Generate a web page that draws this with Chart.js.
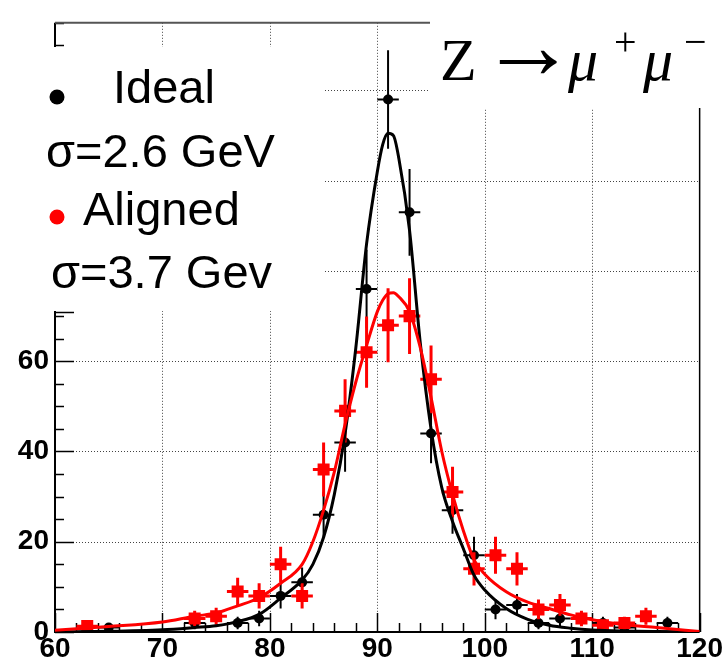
<!DOCTYPE html>
<html>
<head>
<meta charset="utf-8">
<script src="https://cdn.jsdelivr.net/npm/chart.js@4.4.1/dist/chart.umd.min.js"></script>
<style>
  html, body { margin: 0; padding: 0; background: #fff; }
  #wrap { width: 723px; height: 658px; }
</style>
</head>
<body>
<div id="wrap"><canvas id="zChart" width="723" height="658"></canvas></div>
<script>
// Bin centres (GeV), 2 GeV bins
const binCenters = [61, 63, 65, 67, 69, 71, 73, 75, 77, 79, 81, 83, 85, 87, 89,
                    91, 93, 95, 97, 99, 101, 103, 105, 107, 109, 111, 113, 115, 117, 119];

// Ideal geometry (black)
const idealCounts = [null, null, 1, null, null, null, 2, null, 2, 3, 8, 11, 26, 42, 76,
                     118, 93, 44, 27, 17, 5, 6, 2, 3, null, 2, 1, null, 2, null];
const idealErrors = [null, null, 1, null, null, null, 1.4, null, 1.4, 1.7, 2.8, 3.3, 5.1, 6.5, 8.7,
                     10.9, 9.6, 6.6, 5.2, 4.1, 2.2, 2.4, 1.4, 1.7, null, 1.4, 1, null, 1.4, null];

// Aligned geometry (red)
const alignedCounts = [null, 1.3, null, null, null, null, 3, 3.5, 9, 8, 15, 8, 36, 49, 62,
                       68, 70, 56, 31, 14, 17, 14, 5, 6, 3, 1.5, 2, 3.5, null, null];
const alignedErrors = [null, 1, null, null, null, null, 1.7, 1.9, 3, 2.8, 3.9, 2.8, 6, 7, 7.9,
                       8.2, 8.4, 7.5, 5.6, 3.7, 4.1, 3.7, 2.2, 2.4, 1.7, 1.2, 1.4, 1.9, null, null];

// Fit curves
const fitMass = [60, 65, 70, 73, 75, 77, 79, 81, 83, 84, 85, 86, 87, 88, 89, 90, 90.5, 91, 91.5,
                 92, 93, 94, 95, 96, 97, 98, 99, 100, 102, 104, 106, 108, 110, 113, 116, 120];
const idealFit = [0.05, 0.15, 0.5, 1.0, 1.4, 2.3, 3.9, 7.5, 11.5, 15, 21, 30.5, 44, 63, 86, 102, 108, 110.5, 110,
                  105, 89, 64, 45, 32, 24.5, 18.5, 12.6, 9.3, 5.2, 2.8, 1.5, 0.85, 0.45, 0.2, 0.1, 0.05];
const alignedFit = [0.4, 1.2, 2.2, 3.5, 4.2, 5.8, 7.6, 10.8, 15, 20, 27, 35.5, 46, 55.4, 63.5, 71, 73.5, 75, 75.2,
                    74.3, 71, 63, 52, 40, 30.5, 22.5, 16, 12.8, 8.9, 6.6, 5.2, 3.8, 2.7, 1.6, 1.0, 0.1];

// Axis ticks
const xTickLabels = [60, 70, 80, 90, 100, 110, 120];
const yTickLabels = [0, 20, 40, 60];
const xGrid = [70, 80, 90, 100, 110];
const yGrid = [20, 40, 60, 80, 100, 120];
const xMinor = [62, 64, 66, 68, 72, 74, 76, 78, 82, 84, 86, 88, 92, 94, 96, 98,
                102, 104, 106, 108, 112, 114, 116, 118];

function points(counts, errors) {
    const out = [];
    binCenters.forEach(function (m, i) {
        if (counts[i] !== null) out.push({ x: m, y: counts[i], e: errors[i] });
    });
    return out;
}

function curve(values) {
    return fitMass.map(function (m, i) { return { x: m, y: values[i] }; });
}

// Frame, dotted grid and inside ticks like ROOT
const frame = {
    id: 'frame',
    beforeDatasetsDraw: function (chart) {
        const ctx = chart.ctx, a = chart.chartArea;
        const xs = chart.scales.x, ys = chart.scales.y;
        ctx.save();
        ctx.strokeStyle = '#444';
        ctx.lineWidth = 1;
        ctx.setLineDash([1, 2]);
        xGrid.forEach(function (v) {
            const px = Math.round(xs.getPixelForValue(v)) + 0.5;
            ctx.beginPath(); ctx.moveTo(px, a.top); ctx.lineTo(px, a.bottom); ctx.stroke();
        });
        yGrid.forEach(function (v) {
            const py = Math.round(ys.getPixelForValue(v)) + 0.5;
            ctx.beginPath(); ctx.moveTo(a.left, py); ctx.lineTo(a.right, py); ctx.stroke();
        });
        ctx.setLineDash([]);
        ctx.strokeStyle = '#000';
        ctx.lineWidth = 1.5;
        // y ticks every 5, longer every 20
        for (let v = 0; v <= 135; v += 5) {
            const py = Math.round(ys.getPixelForValue(v)) + 0.5;
            const len = v % 20 === 0 ? 19 : 9;
            ctx.beginPath(); ctx.moveTo(a.left, py); ctx.lineTo(a.left + len, py); ctx.stroke();
        }
        xTickLabels.forEach(function (v) {
            const px = Math.round(xs.getPixelForValue(v)) + 0.5;
            ctx.beginPath(); ctx.moveTo(px, a.bottom); ctx.lineTo(px, a.bottom - 19); ctx.stroke();
        });
        xMinor.forEach(function (v) {
            const px = Math.round(xs.getPixelForValue(v)) + 0.5;
            ctx.beginPath(); ctx.moveTo(px, a.bottom); ctx.lineTo(px, a.bottom - 9); ctx.stroke();
        });
        // frame
        ctx.lineWidth = 2;
        ctx.beginPath(); ctx.moveTo(a.left, a.top); ctx.lineTo(a.left, a.bottom); ctx.lineTo(a.right, a.bottom); ctx.stroke();
        ctx.lineWidth = 1.5;
        ctx.beginPath(); ctx.moveTo(a.right, a.bottom); ctx.lineTo(a.right, a.top); ctx.stroke();
        ctx.strokeStyle = '#555';
        ctx.lineWidth = 2;
        ctx.beginPath(); ctx.moveTo(a.left, a.top); ctx.lineTo(a.right, a.top); ctx.stroke();
        ctx.restore();
    }
};

// Error bars: +-error vertically, +-1 GeV (half bin) horizontally
const errorBars = {
    id: 'errorBars',
    beforeDatasetDraw: function (chart, args) {
        const ds = chart.data.datasets[args.index];
        if (!ds.errorBars) return;
        const ctx = chart.ctx, xs = chart.scales.x, ys = chart.scales.y;
        ctx.save();
        ctx.strokeStyle = ds.borderColor;
        ctx.lineWidth = ds.errorWidth;
        ds.data.forEach(function (p) {
            const px = xs.getPixelForValue(p.x), py = ys.getPixelForValue(p.y);
            ctx.beginPath();
            ctx.moveTo(px, ys.getPixelForValue(p.y - p.e));
            ctx.lineTo(px, ys.getPixelForValue(p.y + p.e));
            ctx.moveTo(xs.getPixelForValue(p.x - 1), py);
            ctx.lineTo(xs.getPixelForValue(p.x + 1), py);
            ctx.stroke();
        });
        ctx.restore();
    }
};

// Pasted-on legend and title panels
const overlay = {
    id: 'overlay',
    afterDraw: function (chart) {
        const ctx = chart.ctx, a = chart.chartArea;
        ctx.save();
        ctx.fillStyle = '#fff';
        ctx.fillRect(0, 47, 323, 264);
        ctx.fillRect(430, 0, 293, 108);
        ctx.strokeStyle = '#000';
        ctx.lineWidth = 1.5;
        ctx.beginPath(); ctx.moveTo(a.left, 312.5); ctx.lineTo(a.left + 19, 312.5); ctx.stroke();

        ctx.fillStyle = '#000';
        ctx.textBaseline = 'alphabetic';
        ctx.font = '47px "Liberation Sans", Arial, sans-serif';
        ctx.beginPath(); ctx.arc(57, 97, 7.5, 0, Math.PI * 2); ctx.fill();
        ctx.fillText('Ideal', 113, 103);
        ctx.fillText('\u03c3=2.6 GeV', 46, 167);
        ctx.fillText('Aligned', 83, 225);
        ctx.fillText('\u03c3=3.7 Gev', 51, 288);
        ctx.fillStyle = '#ff0000';
        ctx.beginPath(); ctx.arc(57, 217, 7.5, 0, Math.PI * 2); ctx.fill();

        ctx.fillStyle = '#000';
        ctx.font = '60px "Liberation Serif", "Times New Roman", serif';
        ctx.fillText('Z', 440, 80);
        ctx.font = '96px "Liberation Serif", "Times New Roman", serif';
        ctx.fillText('\u2192', 480, 78);
        ctx.font = 'italic 60px "Liberation Serif", "Times New Roman", serif';
        ctx.fillText('\u03bc', 568, 80);
        ctx.fillText('\u03bc', 643, 80);
        ctx.font = '40px "Liberation Serif", "Times New Roman", serif';
        ctx.fillText('+', 614, 55);
        ctx.fillText('\u2212', 684, 55);
        ctx.restore();
    }
};

const ctx = document.getElementById('zChart').getContext('2d');
const zChart = new Chart(ctx, {
    type: 'scatter',
    data: {
        datasets: [{
            label: 'Aligned fit',
            data: curve(alignedFit),
            showLine: true,
            borderColor: '#ff0000',
            borderWidth: 3,
            pointRadius: 0,
            cubicInterpolationMode: 'monotone',
            order: 0
        }, {
            label: 'Ideal fit',
            data: curve(idealFit),
            showLine: true,
            borderColor: '#000000',
            borderWidth: 3,
            pointRadius: 0,
            cubicInterpolationMode: 'monotone',
            order: 1
        }, {
            label: 'Aligned',
            data: points(alignedCounts, alignedErrors),
            pointStyle: 'rect',
            pointRadius: 8.5,
            backgroundColor: '#ff0000',
            borderColor: '#ff0000',
            borderWidth: 0,
            errorBars: true,
            errorWidth: 3,
            order: 2
        }, {
            label: 'Ideal',
            data: points(idealCounts, idealErrors),
            pointStyle: 'circle',
            pointRadius: 5,
            backgroundColor: '#000000',
            borderColor: '#000000',
            borderWidth: 0,
            errorBars: true,
            errorWidth: 2,
            order: 3
        }]
    },
    options: {
        responsive: false,
        animation: false,
        layout: { padding: { top: 15, right: 23, left: 0, bottom: 0 } },
        plugins: {
            legend: { display: false },
            tooltip: { enabled: false }
        },
        scales: {
            x: {
                type: 'linear',
                min: 60,
                max: 120,
                grid: { display: false, drawTicks: false },
                border: { display: false },
                afterBuildTicks: function (s) { s.ticks = xTickLabels.map(function (v) { return { value: v }; }); },
                afterFit: function (s) { s.height = 26; },
                ticks: {
                    color: '#000',
                    padding: 0,
                    maxRotation: 0,
                    autoSkip: false,
                    font: { family: '"Liberation Sans", Arial, sans-serif', size: 28, weight: 'bold' }
                }
            },
            y: {
                type: 'linear',
                min: 0,
                max: 135,
                grid: { display: false, drawTicks: false },
                border: { display: false },
                afterBuildTicks: function (s) { s.ticks = yTickLabels.map(function (v) { return { value: v }; }); },
                afterFit: function (s) { s.width = 55; },
                ticks: {
                    color: '#000',
                    padding: 6,
                    font: { family: '"Liberation Sans", Arial, sans-serif', size: 28, weight: 'bold' }
                }
            }
        }
    },
    plugins: [frame, errorBars, overlay]
});
</script>
</body>
</html>
